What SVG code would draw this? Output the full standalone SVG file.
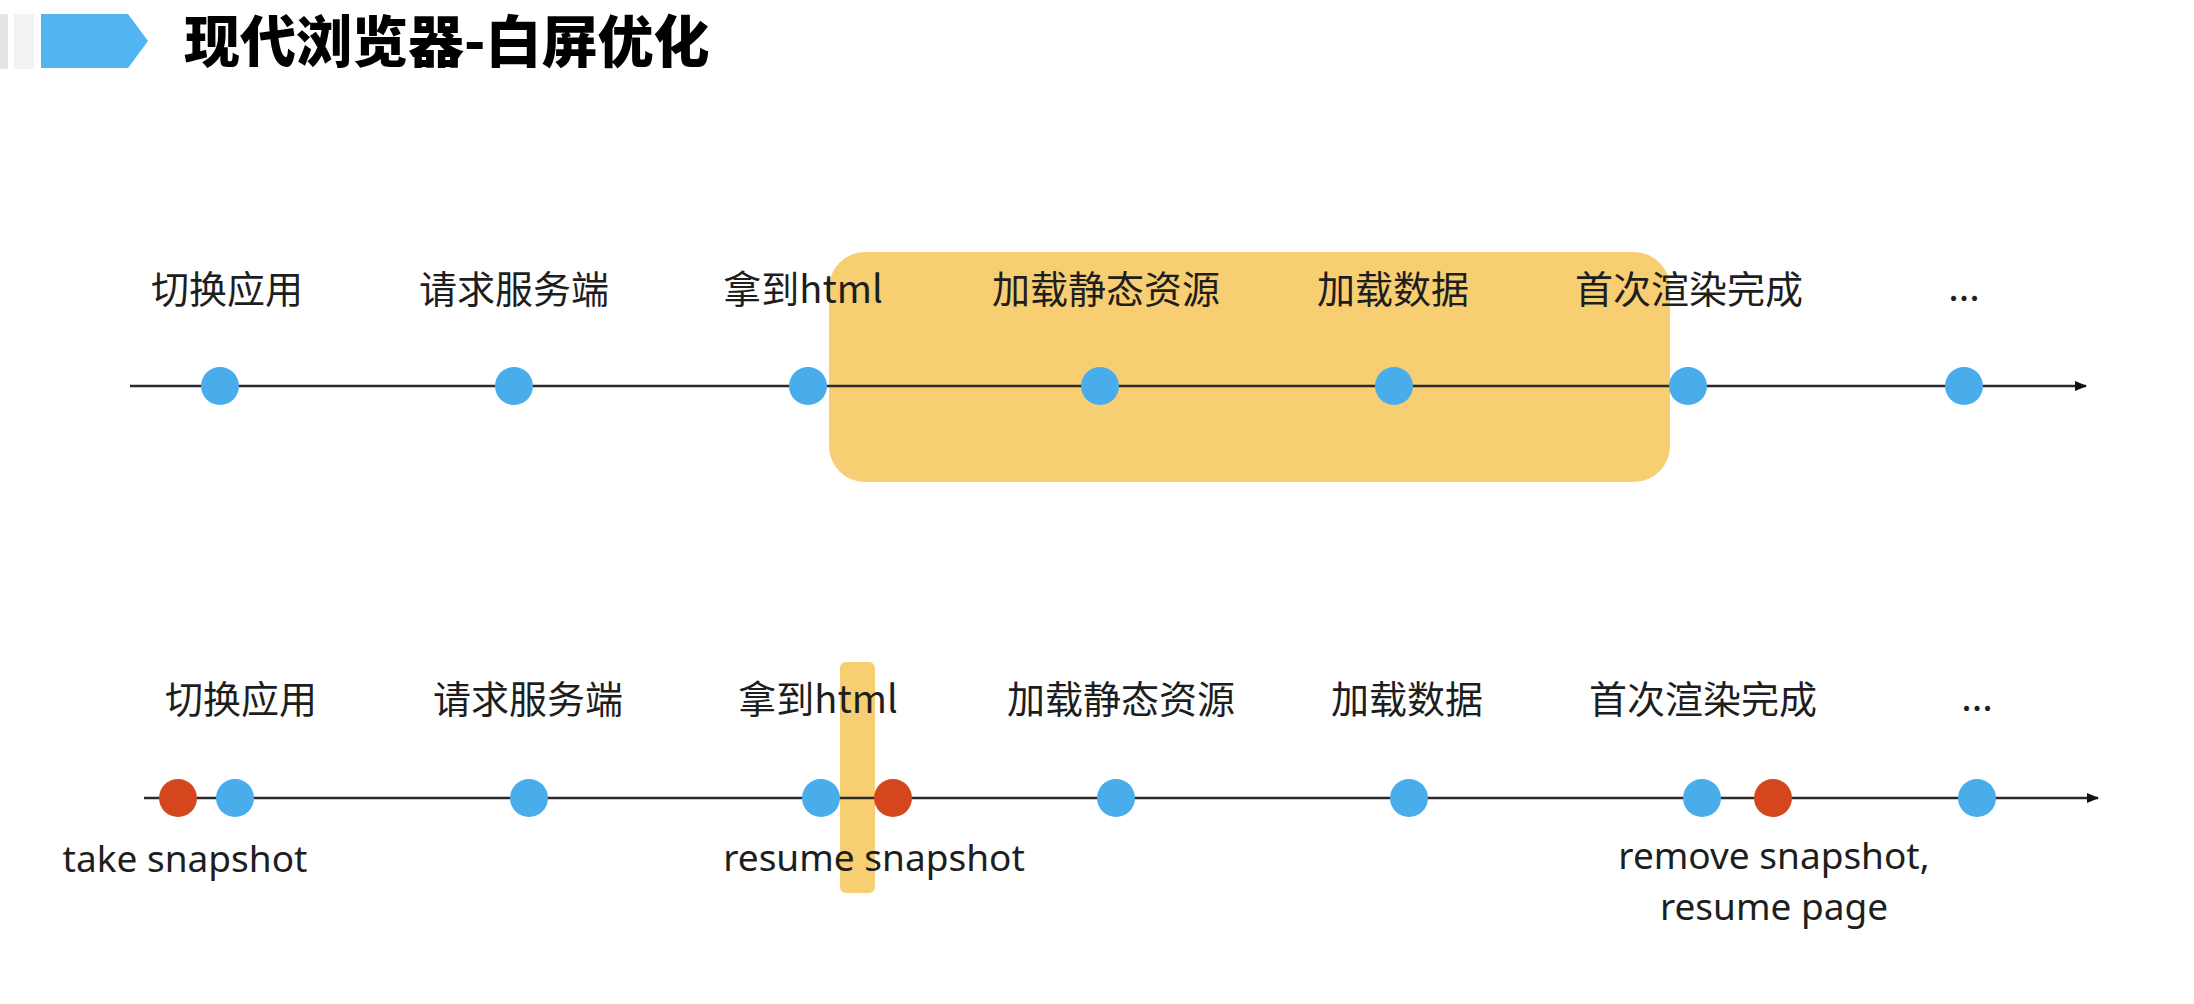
<svg xmlns="http://www.w3.org/2000/svg" width="2194" height="1004" viewBox="0 0 2194 1004">
  <defs>
    <style>
      .lbl { font-family: "Noto Sans CJK SC", "Noto Sans", sans-serif; font-size: 38px; fill: #1e1e1e; text-anchor: middle; }
      .en { font-family: "Noto Sans", "Open Sans", sans-serif; font-size: 37px; fill: #1e1e1e; text-anchor: middle; }
      .title { font-family: "Noto Sans CJK SC", sans-serif; font-size: 56px; font-weight: 900; fill: #000; }
      .blue { fill: #4AADEB; }
      .red { fill: #D5461F; }
      .hl { fill: #F7CE72; }
      .axis { stroke: #2b2b2b; stroke-width: 2.5; fill: none; }
    </style>
    <marker id="arrow" markerWidth="12" markerHeight="10" refX="11" refY="5" orient="auto" markerUnits="userSpaceOnUse">
      <path d="M0,0 L12,5 L0,10 Z" fill="#111"/>
    </marker>
  </defs>
  <rect width="2194" height="1004" fill="#ffffff"/>

  <g id="header">
    <rect x="0" y="14" width="8" height="55" fill="#e4e4e4"/>
    <rect x="14" y="14" width="20" height="55" fill="#f3f3f3"/>
    <path d="M41,14 L128,14 L148,41 L128,68 L41,68 Z" fill="#52B4F0"/>
    <text class="title" x="184" y="62">现代浏览器-白屏优化</text>
  </g>

  <g id="highlights">
    <rect id="top-highlight" class="hl" x="829" y="252" width="841" height="230" rx="36" ry="36"/>
    <rect id="bottom-highlight" class="hl" x="840" y="662" width="35" height="231" rx="6" ry="6"/>
  </g>

  <g id="connectors">
    <line class="axis" x1="130" y1="386" x2="2086" y2="386" marker-end="url(#arrow)"/>
    <line class="axis" x1="144" y1="798" x2="2098" y2="798" marker-end="url(#arrow)" stroke="#444"/>
  </g>

  <g id="top-timeline">
    <g id="t1"><circle class="blue" cx="220" cy="386" r="19"/><text class="lbl" x="227" y="303">切换应用</text></g>
    <g id="t2"><circle class="blue" cx="514" cy="386" r="19"/><text class="lbl" x="514" y="303">请求服务端</text></g>
    <g id="t3"><circle class="blue" cx="808" cy="386" r="19"/><text class="lbl" x="803" y="303">拿到html</text></g>
    <g id="t4"><circle class="blue" cx="1100" cy="386" r="19"/><text class="lbl" x="1106" y="303">加载静态资源</text></g>
    <g id="t5"><circle class="blue" cx="1394" cy="386" r="19"/><text class="lbl" x="1393" y="303">加载数据</text></g>
    <g id="t6"><circle class="blue" cx="1688" cy="386" r="19"/><text class="lbl" x="1689" y="303">首次渲染完成</text></g>
    <g id="t7"><circle class="blue" cx="1964" cy="386" r="19"/><text class="lbl" x="1964" y="301">...</text></g>
  </g>

  <g id="bottom-timeline">
    <g id="b1"><circle class="blue" cx="235" cy="798" r="19"/><text class="lbl" x="241" y="713">切换应用</text></g>
    <g id="b2"><circle class="blue" cx="529" cy="798" r="19"/><text class="lbl" x="528" y="713">请求服务端</text></g>
    <g id="b3"><circle class="blue" cx="821" cy="798" r="19"/><text class="lbl" x="818" y="713">拿到html</text></g>
    <g id="b4"><circle class="blue" cx="1116" cy="798" r="19"/><text class="lbl" x="1121" y="713">加载静态资源</text></g>
    <g id="b5"><circle class="blue" cx="1409" cy="798" r="19"/><text class="lbl" x="1407" y="713">加载数据</text></g>
    <g id="b6"><circle class="blue" cx="1702" cy="798" r="19"/><text class="lbl" x="1703" y="713">首次渲染完成</text></g>
    <g id="b7"><circle class="blue" cx="1977" cy="798" r="19"/><text class="lbl" x="1977" y="711">...</text></g>
    <g id="r1"><circle class="red" cx="178" cy="798" r="19"/><text class="en" x="185" y="872">take snapshot</text></g>
    <g id="r2"><circle class="red" cx="893" cy="798" r="19"/><text class="en" x="874" y="871">resume snapshot</text></g>
    <g id="r3"><circle class="red" cx="1773" cy="798" r="19"/><text class="en" x="1774" y="869"><tspan x="1774" y="869">remove snapshot,</tspan><tspan x="1774" y="920">resume page</tspan></text></g>
  </g>
</svg>
